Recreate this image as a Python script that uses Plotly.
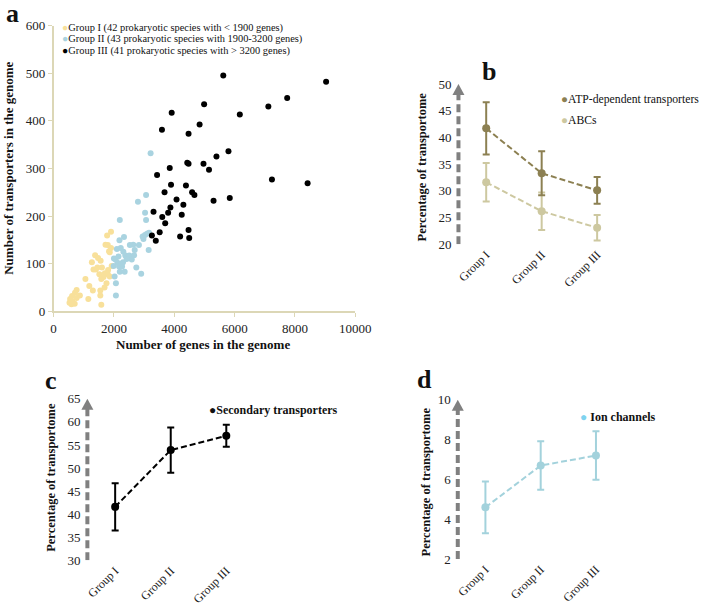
import plotly.graph_objects as go

# ---------------- data ----------------
g1_x = [1903, 1774, 1796, 1903, 1839, 1860, 1376, 1473, 1559, 1269, 1925, 1602, 1323, 1452,
        1398, 1516, 1699, 1796, 1860, 1656, 1581, 1806, 1054, 1753, 1688, 1301, 1548, 1183,
        763, 710, 871, 1151, 1548, 1581, 613, 548, 624, 527, 591, 699, 763, 1720]
g1_y = [167, 159, 139, 133, 126, 124, 118, 112, 106, 103, 95, 92, 88, 92,
        88, 78, 80, 78, 73, 72, 68, 87, 68, 59, 50, 44, 44, 53,
        45, 39, 33, 26, 33, 14, 32, 26, 21, 18, 15, 16, 28, 140]

g2_x = [3215, 3065, 2796, 2194, 3032, 3065, 3097, 3161, 2978, 3151, 2688, 2527, 2828, 2333,
        2183, 2097, 2226, 2312, 2376, 2505, 2473, 2591, 2054, 2000, 2118, 2172, 2269, 2301,
        2742, 2355, 2194, 2903, 2022, 2065, 2065, 2667, 2950, 3030, 2420, 2150, 2640, 2250, 1990]
g2_y = [332, 244, 230, 192, 207, 192, 163, 165, 152, 129, 129, 139, 139, 156,
        149, 131, 133, 125, 117, 117, 113, 109, 109, 111, 102, 94, 94, 103,
        92, 83, 83, 79, 73, 59, 33, 118, 157, 160, 110, 115, 140, 100, 95]

g3_x = [5624, 9032, 7742, 4989, 7118, 3914, 6172, 4839, 3591, 4473, 5796, 5398, 4430, 4473,
        4968, 5151, 3849, 3430, 7237, 8419, 3892, 4387, 3677, 4591, 4667, 5839, 4075, 5301,
        4301, 3871, 3312, 3796, 4247, 3602, 3699, 4473, 3516, 3258, 4194, 4495, 3387]
g3_y = [495, 482, 448, 435, 430, 417, 413, 392, 381, 373, 336, 325, 312, 310,
        310, 297, 301, 286, 277, 269, 266, 264, 250, 250, 244, 238, 235, 232,
        224, 218, 209, 207, 203, 198, 185, 171, 166, 159, 157, 154, 148]

groups = ["Group I", "Group II", "Group III"]

atp_mean = [41.7, 33.3, 30.1]
atp_err = [4.9, 4.1, 2.5]
abc_mean = [31.6, 26.2, 23.1]
abc_err = [3.6, 3.5, 2.4]

sec_mean = [41.6, 53.9, 57.0]
sec_err = [5.1, 4.9, 2.4]

ion_mean = [4.6, 6.7, 7.2]
ion_err = [1.3, 1.22, 1.22]

legend_a = ["Group I (42 prokaryotic species with < 1900 genes)",
            "Group II (43 prokaryotic species with 1900-3200 genes)",
            "Group III (41 prokaryotic species with > 3200 genes)"]

# ---------------- style ----------------
FONT = "Liberation Serif, 'Times New Roman', Times, serif"
C_G1 = "#f8e09a"
C_G2 = "#a9d3e0"
C_G3 = "#000000"
C_ATP = "#8c8052"
C_ABC = "#cdc8a0"
C_ION = "#a3d2dc"
AX_TAN = "#dcd7b6"
ARROW = "#808080"

fig = go.Figure()

# panel a scatter
for xs, ys, c in [(g1_x, g1_y, C_G1), (g2_x, g2_y, C_G2), (g3_x, g3_y, C_G3)]:
    fig.add_trace(go.Scatter(x=xs, y=ys, mode="markers", xaxis="x", yaxis="y",
                             marker=dict(color=c, size=6), showlegend=False, hoverinfo="skip"))

def line_trace(means, errs, color, xa, ya):
    return go.Scatter(x=groups, y=means, mode="lines+markers", xaxis=xa, yaxis=ya,
                      line=dict(color=color, width=2, dash="6px,3px"),
                      marker=dict(color=color, size=8),
                      error_y=dict(type="data", array=errs, color=color, thickness=2, width=3.5),
                      showlegend=False, hoverinfo="skip")

fig.add_trace(line_trace(abc_mean, abc_err, C_ABC, "x2", "y2"))
fig.add_trace(line_trace(atp_mean, atp_err, C_ATP, "x2", "y2"))
fig.add_trace(line_trace(sec_mean, sec_err, "#000000", "x3", "y3"))
fig.add_trace(line_trace(ion_mean, ion_err, C_ION, "x4", "y4"))

tickf = dict(family=FONT, size=13, color="#222")
cat_axis = dict(type="category", range=[-0.5, 2.5], showline=False, showgrid=False,
                zeroline=False, ticks="", tickangle=-45, tickfont=dict(family=FONT, size=12, color="#222"))
num_axis = dict(showline=False, showgrid=False, zeroline=False, ticks="", tickfont=tickf,
                ticklabelstandoff=6)

fig.update_layout(
    width=709, height=611, margin=dict(l=0, r=0, t=0, b=0),
    paper_bgcolor="white", plot_bgcolor="white",
    font=dict(family=FONT, color="#111"),
    xaxis=dict(domain=[52/709, 362/709], range=[0, 10000], dtick=2000, tickformat="d",
               showline=True, linecolor=AX_TAN, linewidth=1.5, ticks="outside", ticklen=4,
               tickcolor=AX_TAN, showgrid=False, zeroline=False, tickfont=tickf, anchor="y"),
    yaxis=dict(domain=[1-312/611, 1-19/611], range=[0, 600], dtick=100, showline=True,
               linecolor=AX_TAN, linewidth=1.5, ticks="outside", ticklen=4, tickcolor=AX_TAN,
               showgrid=False, zeroline=False, tickfont=tickf, anchor="x"),
    xaxis2=dict(domain=[468/709, 639/709], anchor="y2", **cat_axis),
    yaxis2=dict(domain=[1-243.3/611, 1-78.9/611], range=[20, 50], dtick=5, anchor="x2", **num_axis),
    xaxis3=dict(domain=[86.7/709, 258/709], anchor="y3", **cat_axis),
    yaxis3=dict(domain=[1-567.3/611, 1-401.7/611], range=[30, 65], dtick=5, anchor="x3", **num_axis),
    xaxis4=dict(domain=[467.3/709, 637.7/709], anchor="y4", **cat_axis),
    yaxis4=dict(domain=[1-566/611, 1-402.7/611], range=[2, 10], dtick=2, anchor="x4", **num_axis),
)

# dashed arrows as y-axes
shapes = []
for xa, ya, lo, hi in [("x2", "y2", 20, 50), ("x3", "y3", 30, 65), ("x4", "y4", 2, 10)]:
    shapes.append(dict(type="line", xref=f"{xa} domain", yref=ya, x0=0, x1=0, y0=lo,
                       y1=lo + (hi - lo) * 0.95, line=dict(color=ARROW, width=4, dash="8px,4px"),
                       layer="below"))
    shapes.append(dict(type="path", xref=f"{xa} domain", yref=ya, xsizemode="pixel",
                       ysizemode="pixel", xanchor=0, yanchor=hi,
                       path="M -6,-11 L 6,-11 L 0,0 Z", fillcolor=ARROW, line=dict(width=0),
                       layer="below"))
fig.update_layout(shapes=shapes)

ann = []
def txt(x, y, t, size=12, xanchor="left", yanchor="middle", angle=0):
    ann.append(dict(x=x/709, y=1-y/611, xref="paper", yref="paper", text=t, showarrow=False,
                    font=dict(family=FONT, size=size, color="#111"), xanchor=xanchor,
                    yanchor=yanchor, textangle=angle))

# panel letters
txt(1, 7, "<b>a</b>", size=26)
txt(490, 66, "<b>b</b>", size=26)
txt(41, 383, "<b>c</b>", size=26)
txt(423, 382, "<b>d</b>", size=26)

# panel a legend
for i, (lab, c) in enumerate(zip(legend_a, [C_G1, C_G2, C_G3])):
    txt(59, 22 + i*11.3, f"<span style='color:{c}'>●</span>{lab}", size=10.4)

# panel a titles
txt(206, 346, "<b>Number of genes in the genome</b>", size=13, xanchor="center")
txt(6, 165, "<b>Number of transporters in the genome</b>", size=13, xanchor="center", angle=-90)

# b/c/d titles
txt(431, 164, "<b>Percentage of transportome</b>", size=12.5, xanchor="center", angle=-90)
txt(50, 482, "<b>Percentage of transportome</b>", size=12.5, xanchor="center", angle=-90)
txt(435, 487, "<b>Percentage of transportome</b>", size=12.5, xanchor="center", angle=-90)

# b/c/d legends
txt(571, 95, f"<span style='color:{C_ATP}'>●</span>ATP-dependent transporters", size=11.7)
txt(571, 116, f"<span style='color:{C_ABC}'>●</span>ABCs", size=11.7)
txt(210, 413, "●<b>Secondary transporters</b>", size=12)
txt(591, 420, "<span style='color:#7fd3ef'>●</span> <b>Ion channels</b>", size=12)

fig.update_layout(annotations=ann)
fig.write_html("out.html", config={"displayModeBar": False},
               post_script="document.body.style.margin='0';document.body.style.padding='0';"
                           "document.body.style.overflow='hidden';")
